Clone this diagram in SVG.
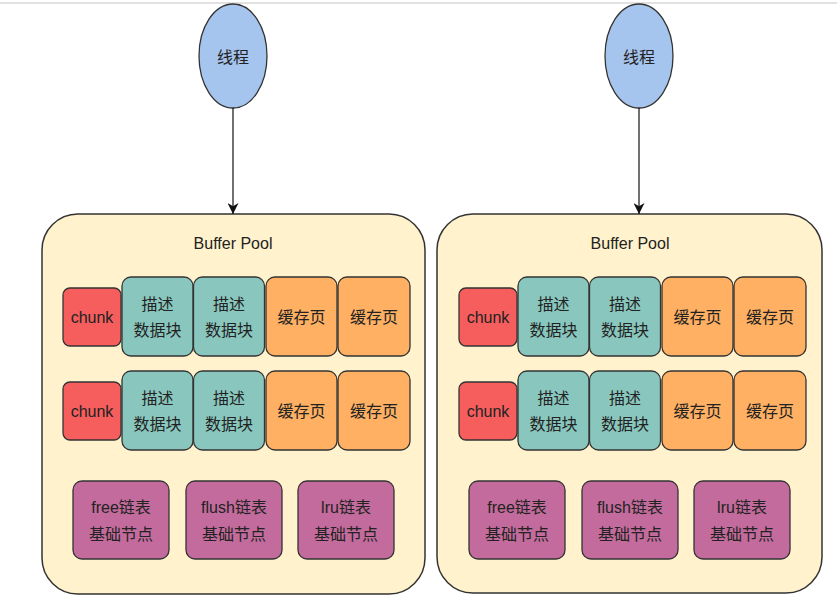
<svg xmlns="http://www.w3.org/2000/svg" width="837" height="611" viewBox="0 0 837 611">
<defs>
<style>
text{font-family:"Liberation Sans","Noto Sans CJK SC",sans-serif;fill:#222;text-anchor:middle;dominant-baseline:central}
.pool{fill:#fff2cc;stroke:#333;stroke-width:1.5}
.chunk{fill:#f65e5e;stroke:#333;stroke-width:1.3}
.desc{fill:#89c7be;stroke:#333;stroke-width:1.3}
.page{fill:#ffb062;stroke:#333;stroke-width:1.3}
.list{fill:#c26b9c;stroke:#333;stroke-width:1.3}
.thread{fill:#a6c5ee;stroke:#333;stroke-width:1.3}
.t{font-size:16px}
.edge{stroke:#111;stroke-width:1.2;fill:none}
</style>
<marker id="arr" viewBox="0 0 10 10" refX="10" refY="5" markerWidth="11" markerHeight="11" markerUnits="userSpaceOnUse" orient="auto">
<path d="M0,0 L10,5 L0,10 L3,5 z" fill="#111"/>
</marker>
</defs>
<rect width="837" height="611" fill="#fff"/>
<line x1="0" y1="3" x2="837" y2="3" stroke="#d9d9d9" stroke-width="1.5"/>

<g id="pool-left">
<rect class="pool" x="42" y="214" width="383" height="380" rx="36"/>
<text class="t" x="233" y="243">Buffer Pool</text>
</g>
<g id="pool-right">
<rect class="pool" x="437" y="214" width="385" height="379" rx="36"/>
<text class="t" x="630" y="243">Buffer Pool</text>
</g>

<g id="thread-left">
<ellipse class="thread" cx="233" cy="56" rx="34" ry="52"/>
<text class="t" x="233" y="57">线程</text>
</g>
<g id="thread-right">
<ellipse class="thread" cx="639" cy="56" rx="34" ry="52"/>
<text class="t" x="639" y="57">线程</text>
</g>

<g id="connectors">
<line class="edge" x1="233" y1="108" x2="233" y2="214" marker-end="url(#arr)"/>
<line class="edge" x1="639" y1="108" x2="639" y2="214" marker-end="url(#arr)"/>
</g>

<!-- Left pool contents -->
<g id="l-r1-chunk"><rect class="chunk" x="63" y="288" width="58" height="58" rx="7"/><text class="t" x="92" y="317">chunk</text></g>
<g id="l-r1-desc1"><rect class="desc" x="122" y="277" width="71" height="79" rx="9"/><text class="t" x="157.5" y="304">描述</text><text class="t" x="157.5" y="330">数据块</text></g>
<g id="l-r1-desc2"><rect class="desc" x="193.5" y="277" width="71" height="79" rx="9"/><text class="t" x="229" y="304">描述</text><text class="t" x="229" y="330">数据块</text></g>
<g id="l-r1-page1"><rect class="page" x="266" y="277" width="71" height="79" rx="9"/><text class="t" x="301.5" y="317">缓存页</text></g>
<g id="l-r1-page2"><rect class="page" x="338" y="277" width="72" height="79" rx="9"/><text class="t" x="374" y="317">缓存页</text></g>

<g id="l-r2-chunk"><rect class="chunk" x="63" y="382" width="58" height="58" rx="7"/><text class="t" x="92" y="411">chunk</text></g>
<g id="l-r2-desc1"><rect class="desc" x="122" y="371" width="71" height="79" rx="9"/><text class="t" x="157.5" y="398">描述</text><text class="t" x="157.5" y="424">数据块</text></g>
<g id="l-r2-desc2"><rect class="desc" x="193.5" y="371" width="71" height="79" rx="9"/><text class="t" x="229" y="398">描述</text><text class="t" x="229" y="424">数据块</text></g>
<g id="l-r2-page1"><rect class="page" x="266" y="371" width="71" height="79" rx="9"/><text class="t" x="301.5" y="411">缓存页</text></g>
<g id="l-r2-page2"><rect class="page" x="338" y="371" width="72" height="79" rx="9"/><text class="t" x="374" y="411">缓存页</text></g>

<g id="l-free"><rect class="list" x="73" y="481" width="96" height="78" rx="9"/><text class="t" x="121" y="507">free链表</text><text class="t" x="121" y="534">基础节点</text></g>
<g id="l-flush"><rect class="list" x="186" y="481" width="96" height="78" rx="9"/><text class="t" x="234" y="507">flush链表</text><text class="t" x="234" y="534">基础节点</text></g>
<g id="l-lru"><rect class="list" x="298" y="481" width="96" height="78" rx="9"/><text class="t" x="346" y="507">lru链表</text><text class="t" x="346" y="534">基础节点</text></g>

<!-- Right pool contents -->
<g id="r-r1-chunk"><rect class="chunk" x="459" y="288" width="58" height="58" rx="7"/><text class="t" x="488" y="317">chunk</text></g>
<g id="r-r1-desc1"><rect class="desc" x="518" y="277" width="71" height="79" rx="9"/><text class="t" x="553.5" y="304">描述</text><text class="t" x="553.5" y="330">数据块</text></g>
<g id="r-r1-desc2"><rect class="desc" x="589.5" y="277" width="71" height="79" rx="9"/><text class="t" x="625" y="304">描述</text><text class="t" x="625" y="330">数据块</text></g>
<g id="r-r1-page1"><rect class="page" x="662" y="277" width="71" height="79" rx="9"/><text class="t" x="697.5" y="317">缓存页</text></g>
<g id="r-r1-page2"><rect class="page" x="734" y="277" width="72" height="79" rx="9"/><text class="t" x="770" y="317">缓存页</text></g>

<g id="r-r2-chunk"><rect class="chunk" x="459" y="382" width="58" height="58" rx="7"/><text class="t" x="488" y="411">chunk</text></g>
<g id="r-r2-desc1"><rect class="desc" x="518" y="371" width="71" height="79" rx="9"/><text class="t" x="553.5" y="398">描述</text><text class="t" x="553.5" y="424">数据块</text></g>
<g id="r-r2-desc2"><rect class="desc" x="589.5" y="371" width="71" height="79" rx="9"/><text class="t" x="625" y="398">描述</text><text class="t" x="625" y="424">数据块</text></g>
<g id="r-r2-page1"><rect class="page" x="662" y="371" width="71" height="79" rx="9"/><text class="t" x="697.5" y="411">缓存页</text></g>
<g id="r-r2-page2"><rect class="page" x="734" y="371" width="72" height="79" rx="9"/><text class="t" x="770" y="411">缓存页</text></g>

<g id="r-free"><rect class="list" x="469" y="481" width="96" height="78" rx="9"/><text class="t" x="517" y="507">free链表</text><text class="t" x="517" y="534">基础节点</text></g>
<g id="r-flush"><rect class="list" x="582" y="481" width="96" height="78" rx="9"/><text class="t" x="630" y="507">flush链表</text><text class="t" x="630" y="534">基础节点</text></g>
<g id="r-lru"><rect class="list" x="694" y="481" width="96" height="78" rx="9"/><text class="t" x="742" y="507">lru链表</text><text class="t" x="742" y="534">基础节点</text></g>
</svg>
